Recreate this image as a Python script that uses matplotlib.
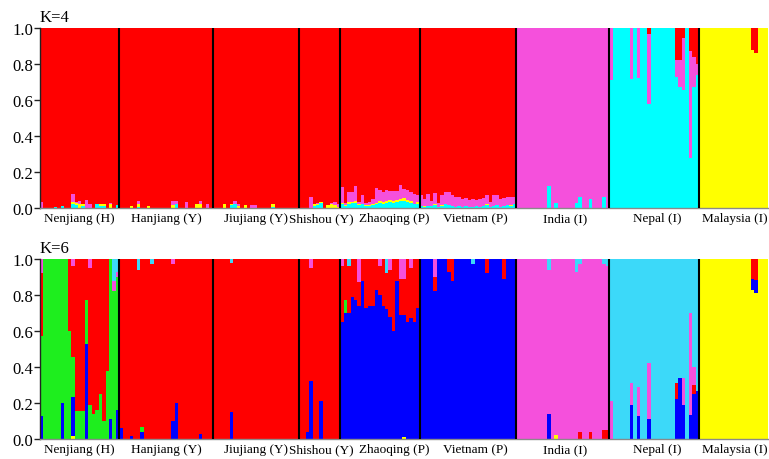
import numpy as np
import matplotlib
matplotlib.use("Agg")
import matplotlib.pyplot as plt
from matplotlib.transforms import blended_transform_factory

plt.rcParams['font.family'] = ['Liberation Serif', 'DejaVu Serif']

# ---------------- data ----------------
populations = ['Nenjiang (H)', 'Hanjiang (Y)', 'Jiujiang (Y)', 'Shishou (Y)',
               'Zhaoqing (P)', 'Vietnam (P)', 'India (I)', 'Nepal (I)', 'Malaysia (I)']
pop_sizes = [23, 27, 25, 12, 23, 28, 27, 26, 20]
panel_titles = ['K=4', 'K=6']
yticks = [0.0, 0.2, 0.4, 0.6, 0.8, 1.0]

# K=4 clusters (stack order bottom -> top): cyan, yellow, magenta, red
k4_cyan = (
    [0, 0, 0, 0, .005, 0, .01, 0, 0, .02, .015, 0, .01, 0, 0, 0, .025, .01, .01, 0, 0, 0, .015]       # Nenjiang
    + [0, 0, 0, 0, 0, .005, 0, 0, 0, 0, 0, 0, 0, 0, 0, 0, .02, 0, 0, 0, 0, 0, 0, 0, 0, 0, 0]         # Hanjiang
    + [0, 0, 0, 0, 0, .015, .02, 0, 0, 0, 0, 0, 0, 0, 0, 0, 0, .005, 0, 0, 0, 0, 0, 0, 0]            # Jiujiang
    + [0, 0, 0, 0, .01, .015, .03, 0, 0, 0, 0, 0]                                                    # Shishou
    + [.02, .01, .025, .03, .03, .015, .02, .01, .01, .015, .02, .03, .025, .03, .035, .03, .035,
       .04, .04, .035, .03, .02, .025]                                                               # Zhaoqing
    + [.01, .005, .01, .01, .015, .005, .01, .02, .015, .01, .005, .01, .005, .01, .005, .005, .01,
       .005, .01, .015, .005, .01, .015, .005, .01, .015, .01, .02]                                  # Vietnam
    + [0, 0, 0, 0, 0, 0, 0, 0, 0, .12, 0, .03, 0, 0, 0, 0, 0, .03, .06, 0, 0, .05, 0, 0, 0, .06, 0]   # India
    + [0.0] * 26                                                                                     # Nepal (dominant)
    + [0.0] * 20                                                                                     # Malaysia
)
k4_yellow = (
    [0, 0, 0, 0, 0, 0, 0, 0, 0, .015, .015, .02, .015, 0, 0, 0, 0, .015, .015, 0, .02, 0, 0]
    + [0, 0, 0, .01, 0, .015, 0, 0, .01, 0, 0, 0, 0, 0, 0, .015, 0, 0, 0, 0, 0, 0, .02, .02, 0, 0, 0]
    + [0, 0, 0, .025, 0, .01, 0, .01, 0, .015, 0, 0, 0, 0, 0, 0, 0, .015, 0, 0, 0, 0, 0, 0, 0]
    + [0, 0, 0, 0, .01, .01, .005, 0, .015, .02, .015, .005]
    + [.01, .005, .01, .005, .01, .005, .005, .005, .005, .005, .01, .01, .01, .01, .01, .01, .01,
       .01, .015, .01, .01, .005, .01]
    + [0, .005, 0, 0, .01, 0, .005, .005, 0, 0, 0, 0, 0, 0, 0, 0, 0, 0, 0, .01, 0, 0, 0, 0, 0, 0,
       .005, .005]
    + [0.0] * 27
    + [0.0] * 26
    + [0.0] * 20                                                                                     # Malaysia (dominant)
)
k4_magenta = (
    [.035, 0, 0, 0, 0, 0, 0, 0, 0, .043, .005, .02, 0, .045, .02, 0, 0, 0, 0, 0, .01, 0, 0]
    + [0, 0, 0, 0, 0, .02, 0, 0, 0, 0, 0, 0, 0, 0, 0, .025, .02, 0, 0, .035, 0, 0, 0, .02, 0, .02, 0]
    + [0, 0, 0, 0, 0, 0, .02, .01, 0, 0, 0, .015, .015, 0, 0, 0, 0, 0, 0, 0, 0, 0, 0, 0, 0]
    + [0, 0, 0, .06, 0, .005, 0, 0, 0, .01, .02, .02]
    + [.085, .015, .052, .055, .08, .015, .045, .015, .02, .03, .08, .06, .055, .06, .051, .055,
       .051, .078, .051, .055, .047, .053, .035]
    + [.06, .04, .068, .03, .058, .025, .055, .062, .072, .062, .055, .05, .045, .045, .04, .045,
       .035, .045, .045, .047, .03, .06, .057, .045, .045, .045, .045, .035]
    + [0.0] * 27                                                                                     # India (dominant)
    + [.29, 0, 0, 0, 0, 0, .283, 0, .28, 0, 0, .385, 0, 0, 0, 0, 0, 0, 0, .095, .15, .286, 0, .59,
       .17, .06]
    + [0.0] * 20
)
k4_red = (
    [0.0] * 23 + [0.0] * 27 + [0.0] * 25 + [0.0] * 12 + [0.0] * 23 + [0.0] * 28                      # dominant
    + [0.0] * 27
    + [0, 0, 0, 0, 0, 0, 0, 0, 0, 0, 0, .035, 0, 0, 0, 0, 0, 0, 0, .175, .175, .057, 0, .13, .16, .2]
    + [0, 0, 0, 0, 0, 0, 0, 0, 0, 0, 0, 0, 0, 0, 0, .12, .14, 0, 0, 0]
)
k4_dominant = ['red', 'red', 'red', 'red', 'red', 'red', 'magenta', 'cyan', 'yellow']

# K=6 clusters (stack order bottom -> top): yellow, blue, green, red, magenta, lightblue
k6_yellow = (
    [0, 0, 0, 0, 0, 0, 0, 0, 0, .015, 0, 0, 0, 0, 0, 0, 0, 0, 0, 0, 0, 0, 0]
    + [0.0] * 27 + [0.0] * 25 + [0.0] * 12
    + [0, 0, 0, 0, 0, 0, 0, 0, 0, 0, 0, 0, 0, 0, 0, 0, 0, 0, .01, 0, 0, 0, 0]
    + [0.0] * 28
    + [0, 0, 0, 0, 0, 0, 0, 0, 0, 0, 0, .02, 0, 0, 0, 0, 0, 0, 0, 0, 0, 0, 0, 0, 0, 0, 0]
    + [0.0] * 26
    + [0.0] * 20                                                                                     # Malaysia (dominant)
)
k6_blue = (
    [.13, 0, 0, 0, 0, 0, .2, 0, 0, .22, 0, 0, 0, .53, 0, 0, 0, 0, 0, 0, .11, 0, .16]
    + [.06, 0, 0, .015, 0, 0, .04, 0, 0, 0, 0, 0, 0, 0, 0, .1, .2, 0, 0, 0, 0, 0, 0, .03, 0, 0, 0]
    + [0, 0, 0, 0, 0, .15, 0, 0, 0, 0, 0, 0, 0, 0, 0, 0, 0, 0, 0, 0, 0, 0, 0, 0, 0]
    + [0, 0, .04, .32, 0, 0, .21, 0, 0, 0, 0, 0]
    + [.65, .70, .70, .79, .77, .74, .88, .73, .74, .74, .83, .80, .74, .72, .68, .60, .88, .69,
       .68, .65, .67, .65, .73]
    + [0.0] * 28                                                                                     # Vietnam (dominant)
    + [0, 0, 0, 0, 0, 0, 0, 0, 0, .14, 0, 0, 0, 0, 0, 0, 0, 0, 0, 0, 0, 0, 0, 0, 0, 0, 0]
    + [0, 0, 0, 0, 0, 0, .19, 0, .126, 0, 0, .11, 0, 0, 0, 0, 0, 0, 0, .22, .34, .19, 0, .135, .25,
       .265]
    + [0, 0, 0, 0, 0, 0, 0, 0, 0, 0, 0, 0, 0, 0, 0, .06, .075, 0, 0, 0]
)
k6_green = (
    [.44, 1, 1, 1, 1, 1, .8, 1, .6, .22, .157, .157, .157, .24, .19, .14, .16, .25, .1, .38, .89,
     .82, .74]
    + [0, 0, 0, 0, 0, 0, .025, 0, 0, 0, 0, 0, 0, 0, 0, 0, 0, 0, 0, 0, 0, 0, 0, 0, 0, 0, 0]
    + [0.0] * 25 + [0.0] * 12
    + [0, .07, 0, 0, 0, 0, 0, 0, 0, 0, 0, 0, 0, 0, 0, 0, 0, 0, 0, 0, 0, 0, 0]
    + [0.0] * 28 + [0.0] * 27 + [0.0] * 26 + [0.0] * 20
)
k6_red = (
    [0.0] * 23 + [0.0] * 27 + [0.0] * 25 + [0.0] * 12 + [0.0] * 23                                   # dominant
    + [0, 0, 0, 0, .08, 0, 0, 0, .07, .12, 0, 0, 0, 0, 0, 0, 0, 0, 0, .08, 0, 0, 0, 0, .11, 0, 0, 0]
    + [0, 0, 0, 0, 0, 0, 0, 0, 0, 0, 0, 0, 0, 0, 0, 0, 0, 0, .04, 0, 0, .04, 0, 0, 0, .05, .05]
    + [0, 0, 0, 0, 0, 0, 0, 0, 0, 0, 0, 0, 0, 0, 0, 0, 0, 0, 0, .09, 0, 0, 0, 0, .05, 0]
    + [0, 0, 0, 0, 0, 0, 0, 0, 0, 0, 0, 0, 0, 0, 0, .11, .115, 0, 0, 0]
)
k6_magenta = (
    [.08, 0, 0, 0, 0, 0, 0, 0, 0, .04, 0, 0, 0, 0, .05, 0, 0, 0, 0, 0, 0, .06, .03]
    + [0, 0, 0, 0, 0, 0, 0, 0, 0, 0, 0, 0, 0, 0, 0, .03, 0, 0, 0, 0, 0, 0, 0, 0, 0, 0, 0]
    + [0.0] * 25
    + [0, 0, 0, .05, 0, 0, 0, 0, 0, 0, 0, 0]
    + [.04, 0, 0, 0, 0, .13, 0, 0, 0, 0, 0, .04, 0, 0, .06, 0, 0, .11, .11, 0, .05, 0, 0]
    + [0, 0, 0, 0, .10, 0, 0, 0, 0, 0, 0, 0, 0, 0, 0, 0, 0, 0, 0, 0, 0, 0, 0, 0, 0, 0, 0, 0]
    + [0.0] * 27                                                                                     # India (dominant)
    + [.21, 0, 0, 0, 0, 0, .12, 0, .164, 0, 0, .31, 0, 0, 0, 0, 0, 0, 0, 0, 0, .15, 0, .565, .10, 0]
    + [0.0] * 20
)
k6_lightblue = (
    [0, 0, 0, 0, 0, 0, 0, 0, 0, 0, 0, 0, 0, 0, 0, 0, 0, 0, 0, 0, 0, .12, .07]
    + [0, 0, 0, 0, 0, .06, 0, 0, 0, .03, 0, 0, 0, 0, 0, 0, 0, 0, 0, 0, 0, 0, 0, 0, 0, 0, 0]
    + [0, 0, 0, 0, 0, .02, 0, 0, 0, 0, 0, 0, 0, 0, 0, 0, 0, 0, 0, 0, 0, 0, 0, 0, 0]
    + [0.0] * 12
    + [0, 0, .04, 0, 0, 0, 0, 0, 0, 0, 0, 0, 0, .08, 0, 0, 0, 0, 0, 0, 0, 0, 0]
    + [0, 0, 0, 0, 0, 0, 0, 0, 0, 0, 0, 0, 0, 0, 0, .03, 0, 0, 0, 0, 0, 0, 0, 0, 0, 0, 0, 0]
    + [0, 0, 0, 0, 0, 0, 0, 0, 0, .06, 0, 0, 0, 0, 0, 0, 0, .07, .03, 0, 0, 0, 0, 0, 0, .03, .04]
    + [0.0] * 26                                                                                     # Nepal (dominant)
    + [0.0] * 20
)
k6_dominant = ['red', 'red', 'red', 'red', 'red', 'blue', 'magenta', 'lightblue', 'yellow']

# ---------------- styles ----------------
k4_order = ['cyan', 'yellow', 'magenta', 'red']
k4_colors = {'cyan': '#00FFFF', 'yellow': '#FFFF00', 'magenta': '#F550DC', 'red': '#FF0000'}
k6_order = ['yellow', 'blue', 'green', 'red', 'magenta', 'lightblue']
k6_colors = {'yellow': '#FFFF00', 'blue': '#0000FF', 'green': '#1EEE1E', 'red': '#FF0000',
             'magenta': '#F550DC', 'lightblue': '#3CD9F9'}
label_offsets = [0.0, 0.0, 0.0, 0.4, 4.2, 2.2, 0.8, 1.0, 0.4]   # in individual units


def build_q(series, order, dominant):
    N = sum(pop_sizes)
    q = {}
    for name in order:
        arr = np.array(series[name], dtype=float)
        if arr.size != N:
            raise ValueError(f"{name}: {arr.size} values, expected {N}")
        q[name] = arr
    start = 0
    for n, dom in zip(pop_sizes, dominant):
        sl = slice(start, start + n)
        others = sum(q[k][sl] for k in order if k != dom)
        q[dom][sl] = np.clip(1 - others, 0, 1)
        start += n
    return q


q4 = build_q({'cyan': k4_cyan, 'yellow': k4_yellow, 'magenta': k4_magenta, 'red': k4_red},
             k4_order, k4_dominant)
q6 = build_q({'yellow': k6_yellow, 'blue': k6_blue, 'green': k6_green, 'red': k6_red,
              'magenta': k6_magenta, 'lightblue': k6_lightblue}, k6_order, k6_dominant)

fig = plt.figure(figsize=(7.69, 4.60), dpi=100)
W, H = 769, 460
ax1 = fig.add_axes([40 / W, 1 - 209 / H, 728 / W, 180 / H])
ax2 = fig.add_axes([40 / W, 1 - 440 / H, 728 / W, 180 / H])

N = sum(pop_sizes)
x = np.arange(N)
bounds = np.cumsum(pop_sizes)

for ax, q, order, colors, title in [(ax1, q4, k4_order, k4_colors, panel_titles[0]),
                                    (ax2, q6, k6_order, k6_colors, panel_titles[1])]:
    bottom = np.zeros(N)
    for name in order:
        ax.bar(x, q[name], width=1.0, bottom=bottom, align='edge', color=colors[name],
               linewidth=0, antialiased=False)
        bottom = bottom + q[name]
    ax.vlines(bounds[:-1], 0, 1, colors='black', linewidth=1.5, zorder=5)
    ax.set_xlim(0, N)
    ax.set_ylim(0, 1)
    ax.set_yticks(yticks)
    ax.set_yticklabels([f"{v:.1f}" for v in yticks])
    ax.set_xticks([])
    for s in ['top', 'right']:
        ax.spines[s].set_visible(False)
    ax.spines['left'].set_color('#222222')
    ax.spines['left'].set_linewidth(1.0)
    ax.spines['bottom'].set_color('#8a8a8a')
    ax.spines['bottom'].set_linewidth(1.0)
    ax.tick_params(axis='y', direction='out', length=4, width=1, pad=1,
                   labelsize=12, colors='#222222', labelcolor='black')
    ax.text(0, 1.04, title, transform=ax.transAxes, ha='left', va='baseline', fontsize=12)
    tr = blended_transform_factory(ax.transData, ax.transAxes)
    starts = np.concatenate([[0], bounds[:-1]])
    for lab, s0, n, off in zip(populations, starts, pop_sizes, label_offsets):
        ax.text(s0 + n / 2 + off, -0.025, lab, transform=tr, ha='center', va='top',
                fontsize=9.5)

fig.savefig('out.png', dpi=100)
